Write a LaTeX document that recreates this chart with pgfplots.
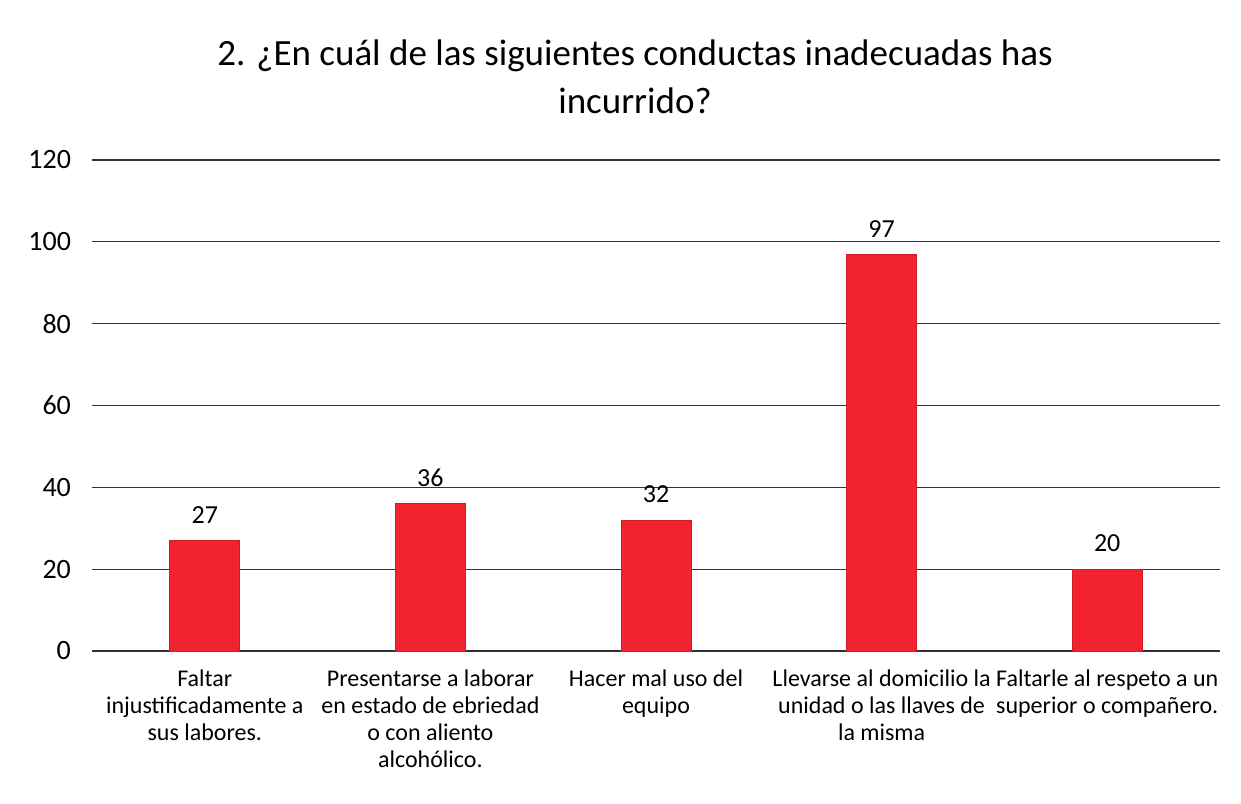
\documentclass[border=0pt]{standalone}
\usepackage{pgfplots}
\pgfplotsset{compat=1.18}
\usepackage{fontspec}
\setmainfont{Carlito}
\definecolor{barred}{RGB}{242,34,46}
\definecolor{gridc}{RGB}{50,50,50}
\begin{document}
\begin{tikzpicture}
\begin{axis}[
  scale only axis,
  width=564pt, height=245.5pt,
  xmin=-0.5, xmax=4.5,
  ymin=0, ymax=120,
  ytick={0,20,...,120},
  xtick={0,1,2,3,4},
  xticklabels={
    {Faltar\\injustificadamente a\\sus labores.},
    {Presentarse a laborar\\en estado de ebriedad\\o con aliento\\alcohólico.},
    {Hacer mal uso del\\equipo},
    {Llevarse al domicilio la\\unidad o las llaves de\\la misma},
    {Faltarle al respeto a un\\superior o compañero.}},
  xticklabel style={align=center, font=\fontsize{12}{13.5}\selectfont, anchor=north, yshift=-6pt},
  yticklabel style={font=\fontsize{14}{16}\selectfont, xshift=-7pt},
  /pgf/number format/assume math mode=true,
  axis line style={draw=none},
  major tick length=0pt,
  ymajorgrids,
  grid style={gridc, line width=0.6pt},
  ybar,
  bar width=35pt,
  nodes near coords,
  every node near coord/.append style={font=\fontsize{13}{15}\selectfont, yshift=5pt},
  clip=false,
]
\addplot[fill=barred, draw=barred!85!black, line width=0.4pt] coordinates {(0,27) (1,36) (2,32) (3,97) (4,20)};
\end{axis}
\node[align=center, font=\fontsize{18.5}{24}\selectfont] at (271.5pt,287pt) {2. ¿En cuál de las siguientes conductas inadecuadas has\\incurrido?};
\path (-46pt,-76pt) rectangle (574.5pt,325.5pt);
\end{tikzpicture}
\end{document}
